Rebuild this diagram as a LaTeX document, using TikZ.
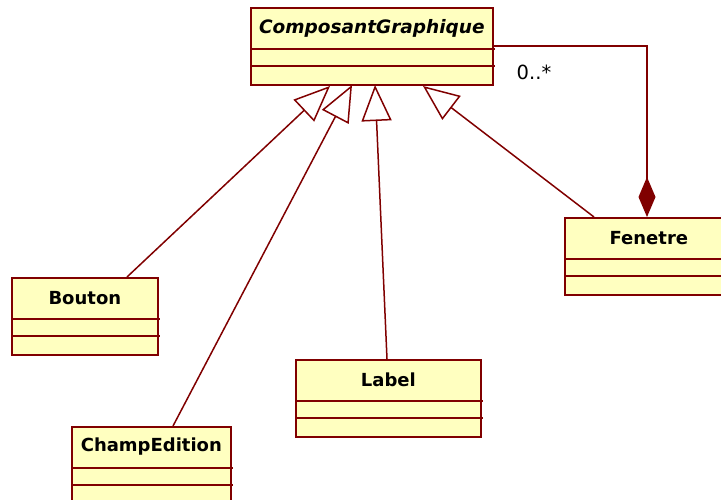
\documentclass[tikz,border=0pt]{standalone}
\usepackage{fontspec}
\setmainfont{DejaVu Sans}
\usetikzlibrary{arrows.meta,calc}
\definecolor{umlline}{RGB}{128,0,0}
\definecolor{umlfill}{RGB}{255,255,192}
\tikzset{
  classbox/.style={draw=umlline, fill=umlfill, line width=1.7pt, rectangle, inner sep=0pt, anchor=north west},
  classname/.style={font=\fontsize{18}{20}\selectfont\bfseries, inner sep=0pt},
  sepline/.style={draw=umlline, line width=1.7pt},
  gen/.style={draw=umlline, line width=1.5pt, -{Triangle[open, length=36pt, width=30pt, line width=1.5pt]}},
  comp/.style={draw=umlline, line width=1.5pt, {Diamond[length=40pt, width=17pt, fill=umlline]}-},
  mult/.style={font=\fontsize{19.5}{22}\selectfont, inner sep=0pt}
}
% #1 name, #2 x, #3 y, #4 width, #5 text
\newcommand\umlclass[5]{%
  \node[classbox, minimum width=#4pt, minimum height=77pt] (#1) at (#2,#3) {};
  \node[classname] (#1-title) at ($(#1.north west)!0.5!(#1.north east)+(0,21)$) {#5};
  \draw[sepline] ($(#1.north west)+(0,42)$) -- ++(#4+3,0);
  \draw[sepline] ($(#1.north west)+(0,59)$) -- ++(#4+3,0);
}
\begin{document}
\begin{tikzpicture}[x=1pt,y=-1pt]
\useasboundingbox (0,0) rectangle (721,499);
\umlclass{cg}{250}{7}{242}{\fontsize{18.5}{20}\selectfont\itshape ComposantGraphique}
\umlclass{fen}{564}{217}{168}{Fenetre}
\umlclass{bou}{11}{277}{146}{Bouton}
\umlclass{cha}{71}{426}{159}{ChampEdition}
\umlclass{lab}{295}{359}{185}{Label}
% attachment points
\coordinate (t1) at ($(cg.north west)+(80,79)$);
\coordinate (t2) at ($(cg.north west)+(102,78)$);
\coordinate (t3) at ($(cg.north west)+(125,78)$);
\coordinate (t4) at ($(cg.north west)+(173,79)$);
\coordinate (b1) at ($(bou.north west)+(116,0)$);
\coordinate (b2) at ($(cha.north west)+(102,0)$);
\coordinate (b3) at ($(lab.north west)+(92,0)$);
\coordinate (b4) at ($(fen.north west)+(30,0)$);
\draw[gen] (b1) -- (t1);
\draw[gen] (b2) -- (t2);
\draw[gen] (b3) -- (t3);
\draw[gen] (b4) -- (t4);
% composition
\coordinate (cstart) at ($(cg.north east)+(0,39)$);
\coordinate (cend) at ($(fen.north west)+(83,0)$);
\draw[comp] (cend) |- (cstart);
\node[mult] (m) at (534,72) {0..*};
\end{tikzpicture}
\end{document}
